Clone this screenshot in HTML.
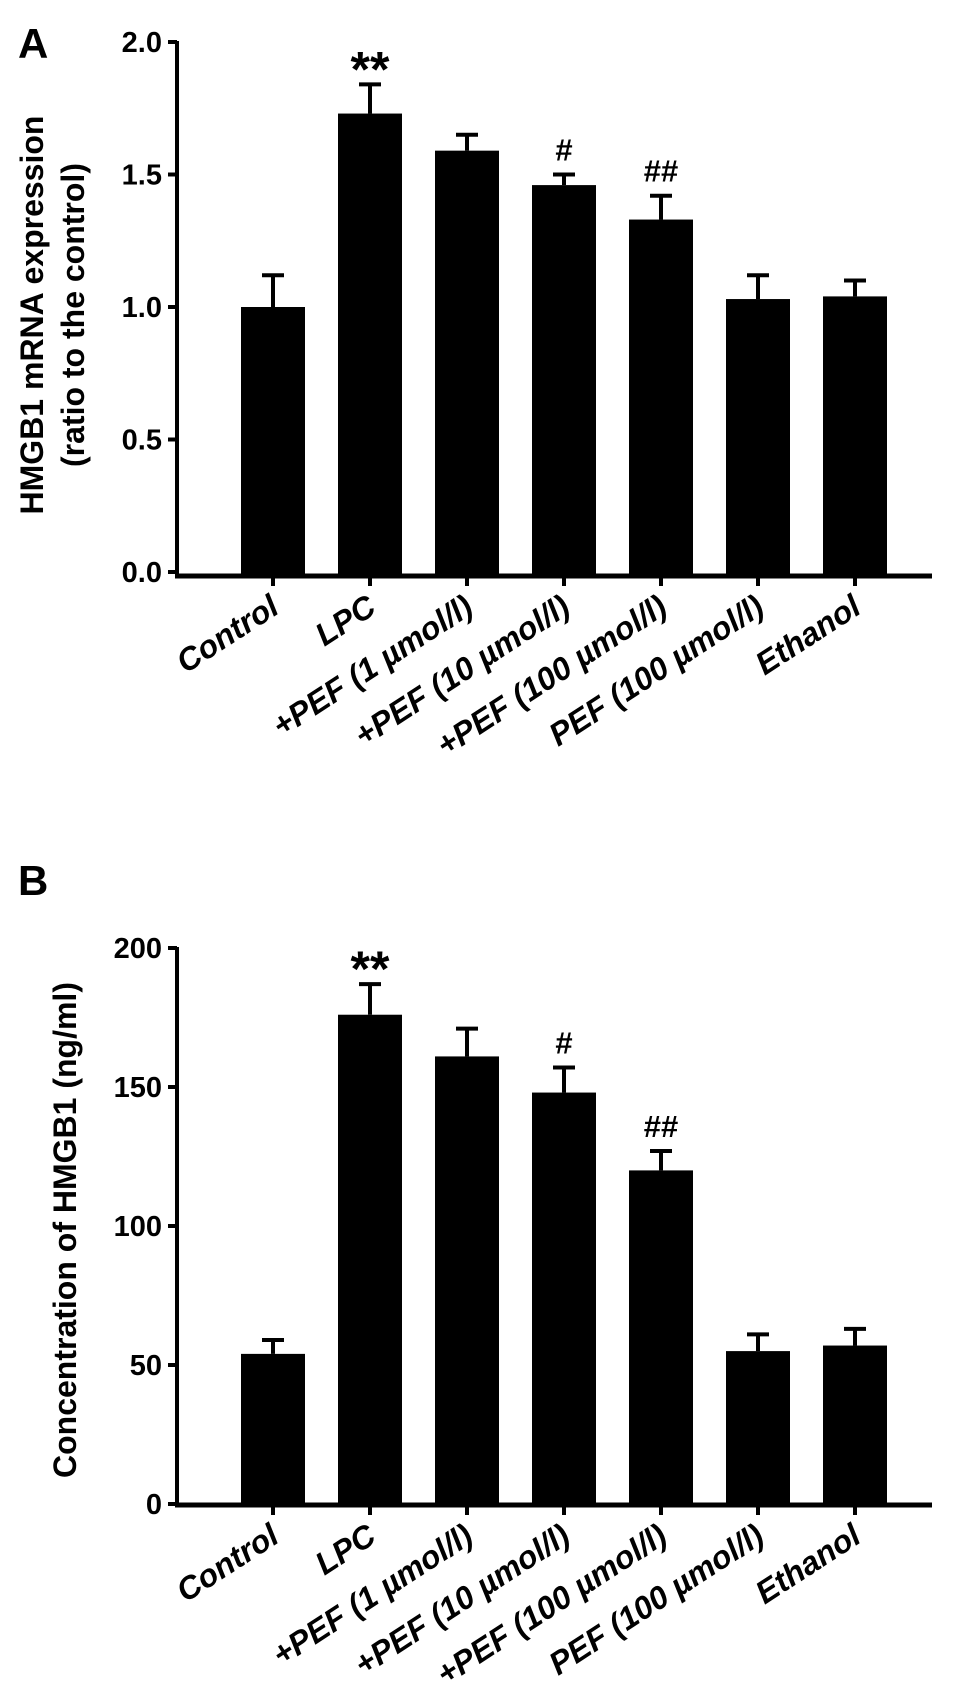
<!DOCTYPE html>
<html><head><meta charset="utf-8"><style>
html,body{margin:0;padding:0;background:#fff;}
svg{display:block;font-family:"Liberation Sans",Arial,sans-serif;font-weight:bold;}
</style></head><body>
<svg id="fig" width="969" height="1706" viewBox="0 0 969 1706"></svg>
<script>
const categories = ["Control","LPC","+PEF (1 \u00b5mol/l)","+PEF (10 \u00b5mol/l)","+PEF (100 \u00b5mol/l)","PEF (100 \u00b5mol/l)","Ethanol"];
const mrnaValues = [1.00,1.73,1.59,1.46,1.33,1.03,1.04];
const mrnaErrors = [0.12,0.11,0.06,0.04,0.09,0.09,0.06];
const mrnaTicks = [0,0.5,1.0,1.5,2.0];
const mrnaTickLabels = ["0.0","0.5","1.0","1.5","2.0"];
const concValues = [54,176,161,148,120,55,57];
const concErrors = [5,11,10,9,7,6,6];
const concTicks = [0,50,100,150,200];
const concTickLabels = ["0","50","100","150","200"];
const markers = ["","**","","#","##","",""];

const NS="http://www.w3.org/2000/svg";
const svg=document.getElementById('fig');
function mk(tag,attrs,parent){const e=document.createElementNS(NS,tag);for(const k in attrs)e.setAttribute(k,attrs[k]);(parent||svg).appendChild(e);return e;}

function panel(opt){
  const g=mk('g',{});
  
  
  const axX=177, x0=273, step=97, bw=64;
  const y=v=>opt.y0-(v-opt.min)/(opt.max-opt.min)*(opt.y0-opt.y1);
  const xc=i=>x0+i*step;
  const ya=mk('line',{x1:axX,y1:y(opt.max)-1,x2:axX,y2:opt.axisY,stroke:'#000','stroke-width':4},g);
  
  
  opt.ticks.forEach((t,i)=>{
    const tk=mk('line',{x1:axX-9,y1:y(t),x2:axX,y2:y(t),stroke:'#000','stroke-width':4},g);
    
    
    const tl=mk('text',{x:axX-15,y:y(t)+10,'text-anchor':'end','font-size':29},g);
    tl.textContent=opt.tickLabels[i];
    
    
  });
  opt.values.forEach((v,i)=>{
    const top=y(v+opt.errors[i]);
    const el=mk('line',{x1:xc(i),y1:y(v),x2:xc(i),y2:top,stroke:'#000','stroke-width':4},g);
    
    
    const cap=mk('line',{x1:xc(i)-11,y1:top,x2:xc(i)+11,y2:top,stroke:'#000','stroke-width':4},g);
    
    
    const b=mk('rect',{x:xc(i)-bw/2,y:y(v),width:bw,height:opt.axisY-y(v),fill:'#000'},g);
    
    
    if(markers[i]){
      const star=markers[i].startsWith('*');
      const m=mk('text',{x:xc(i),y:star?top+2:top-14,'text-anchor':'middle','font-size':star?50:31},g);
      m.textContent=markers[i];
      
      
    }
    const tk=mk('line',{x1:xc(i),y1:opt.axisY,x2:xc(i),y2:opt.axisY+10,stroke:'#000','stroke-width':4},g);
    
    
    const lbl=mk('text',{transform:`translate(${xc(i)+8},${opt.axisY+36}) rotate(-33)`,'text-anchor':'end','font-size':32,'font-style':'italic'},g);
    lbl.textContent=categories[i];
    
    
  });
  const xa=mk('line',{x1:axX-2,y1:opt.axisY,x2:932,y2:opt.axisY,stroke:'#000','stroke-width':5},g);
  
  
  opt.titles.forEach((t,i)=>{
    const tt=mk('text',{transform:`translate(${t.x},${opt.titleY}) rotate(-90)`,'text-anchor':'middle','font-size':32},g);
    tt.textContent=t.text;
    
    
  });
  const L=mk('text',{x:18,y:opt.letterY,'font-size':42},g);
  L.textContent=opt.letter;
  
  
}

panel({name:'panel-a-mrna',min:0,max:2,y0:572,y1:42,axisY:576,values:mrnaValues,errors:mrnaErrors,ticks:mrnaTicks,tickLabels:mrnaTickLabels,
  titles:[{x:43,text:'HMGB1 mRNA expression'},{x:84,text:'(ratio to the control)'}],titleY:315,letter:'A',letterY:58});
panel({name:'panel-b-concentration',min:0,max:200,y0:1504,y1:948,axisY:1505,values:concValues,errors:concErrors,ticks:concTicks,tickLabels:concTickLabels,
  titles:[{x:76,text:'Concentration of HMGB1 (ng/ml)'}],titleY:1230,letter:'B',letterY:895});
</script>
</body></html>
